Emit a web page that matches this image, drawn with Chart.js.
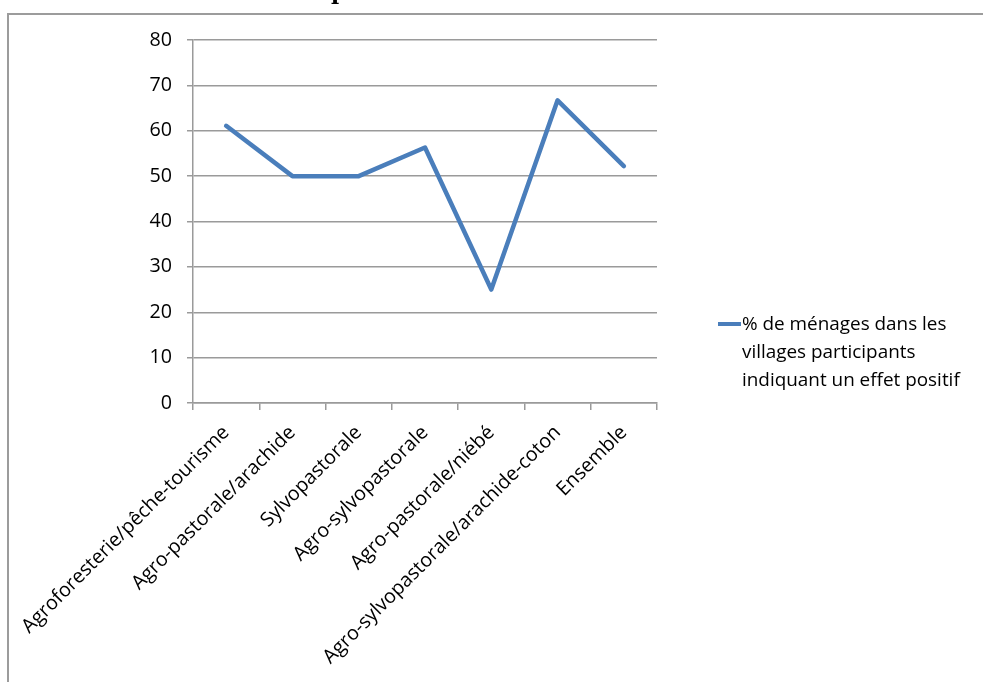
<!DOCTYPE html>
<html>
<head>
<meta charset="utf-8">
<script src="https://cdn.jsdelivr.net/npm/chart.js@4/dist/chart.umd.min.js"></script>
<style>
  html, body { margin: 0; padding: 0; background: #fff; overflow: hidden; }
  #wrap { position: relative; width: 983px; height: 682px; }
  #frame {
    position: absolute; left: 7px; top: 13px; width: 1000px; height: 700px;
    border-left: 2px solid #9c9c9c; border-top: 2px solid #9c9c9c;
  }
  canvas { position: absolute; left: 0; top: 0; }
</style>
</head>
<body>
<div id="wrap">
  <div id="frame"></div>
  <canvas id="chart" width="983" height="682"></canvas>
</div>
<script>
// data
const categories = [
  "Agroforesterie/pêche-tourisme",
  "Agro-pastorale/arachide",
  "Sylvopastorale",
  "Agro-sylvopastorale",
  "Agro-pastorale/niébé",
  "Agro-sylvopastorale/arachide-coton",
  "Ensemble"
];
const positiveShare = [61.1, 50, 50, 56.3, 25, 66.7, 52.2];
const yTicks = [0, 10, 20, 30, 40, 50, 60, 70, 80];
const seriesLabel = "% de ménages dans les villages participants indiquant un effet positif";
const legendLines = ["% de ménages dans les", "villages participants", "indiquant un effet positif"];

const FONT = "'Open Sans', Lato, sans-serif";
const FSIZE = 19.7;
const BLUE = "#4a7ebb";
const GRID = "#9a9a9a";

// legend on the right, wrapped over three lines
const sideLegend = {
  id: "sideLegend",
  afterDraw(chart) {
    const ctx = chart.ctx;
    ctx.save();
    ctx.strokeStyle = BLUE;
    ctx.lineWidth = 4;
    ctx.beginPath();
    ctx.moveTo(718, 324);
    ctx.lineTo(741, 324);
    ctx.stroke();
    ctx.fillStyle = "#000";
    ctx.font = "18.9px " + FONT;
    ctx.textBaseline = "middle";
    legendLines.forEach((t, i) => ctx.fillText(t, 742, 325 + i * 28));
    ctx.restore();
  }
};

// bottom of the cut-off heading above the frame
const cutTitle = {
  id: "cutTitle",
  afterDraw(chart) {
    const ctx = chart.ctx;
    ctx.save();
    ctx.fillStyle = "#000";
    ctx.font = "bold 22px 'DejaVu Serif', serif";
    ctx.textBaseline = "alphabetic";
    ctx.fillText("p", 331, -1);
    ctx.restore();
  }
};

new Chart(document.getElementById("chart"), {
  type: "line",
  data: {
    labels: categories,
    datasets: [{
      label: seriesLabel,
      data: positiveShare,
      borderColor: BLUE,
      borderWidth: 4.5,
      pointRadius: 0,
      borderJoinStyle: "round",
      borderCapStyle: "round",
      tension: 0
    }]
  },
  options: {
    responsive: false,
    animation: false,
    layout: { padding: { top: 40, left: 0, right: 326, bottom: 0 } },
    plugins: {
      legend: { display: false },
      tooltip: { enabled: false }
    },
    scales: {
      x: {
        offset: true,
        grid: { display: true, drawOnChartArea: false, drawTicks: true, tickLength: 7, color: GRID, lineWidth: 1.5, offset: true },
        border: { color: GRID, width: 1.5 },
        ticks: {
          minRotation: 45, maxRotation: 45, autoSkip: false,
          color: "#000", font: { family: FONT, size: FSIZE }, padding: 11
        },
        afterFit: s => { s.height = 279; }
      },
      y: {
        min: 0, max: 80,
        afterBuildTicks: s => { s.ticks = yTicks.map(v => ({ value: v })); },
        grid: { color: GRID, lineWidth: 1.5, tickLength: 6 },
        border: { color: GRID, width: 1.5 },
        ticks: { color: "#000", font: { family: FONT, size: FSIZE }, padding: 15 },
        afterFit: s => { s.width = 193; }
      }
    }
  },
  plugins: [sideLegend, cutTitle]
});
</script>
</body>
</html>
